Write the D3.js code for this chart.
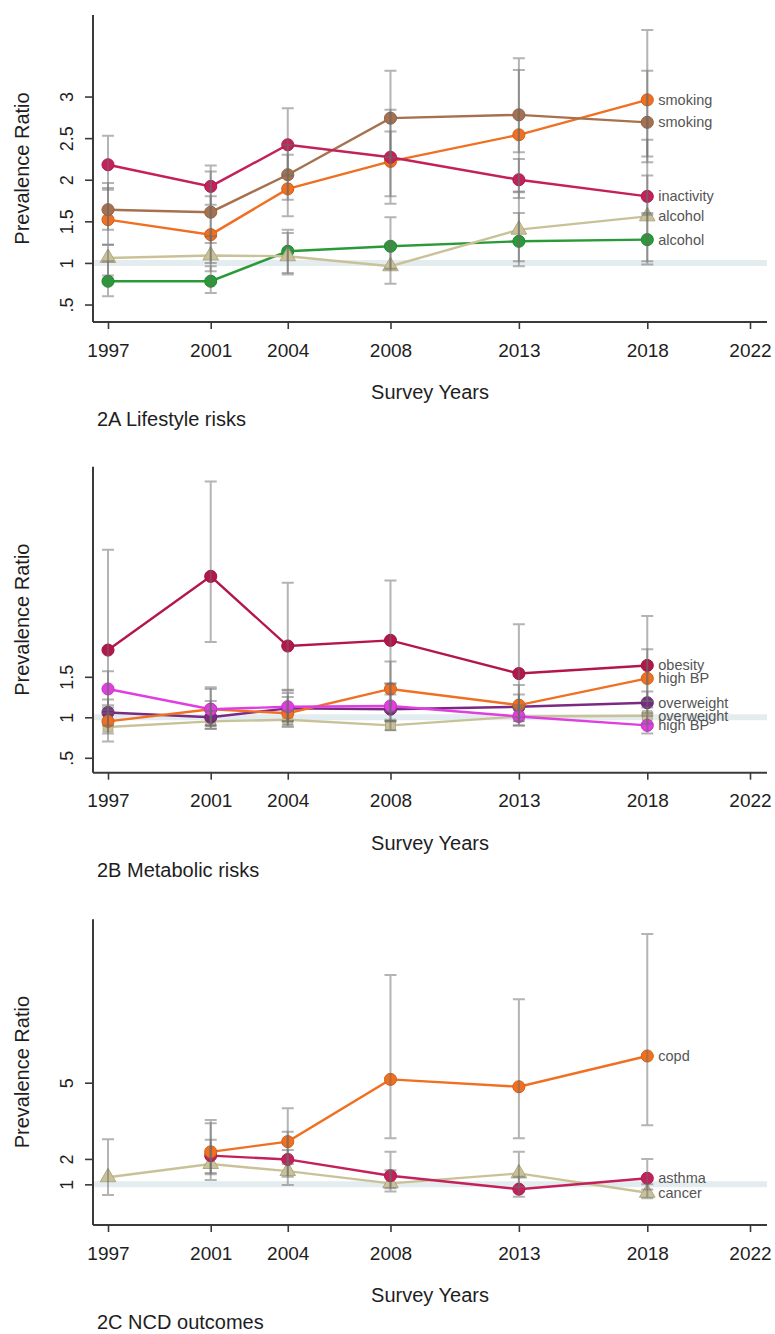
<!DOCTYPE html>
<html>
<head>
<meta charset="utf-8">
<script src="https://cdn.jsdelivr.net/npm/d3@7"></script>
<style>
  html, body { margin: 0; padding: 0; background: #fff; }
  svg { display: block; font-family: "Liberation Sans", Arial, sans-serif; }
</style>
</head>
<body>
<script>
// Survey years and axis ticks
const years = [1997, 2001, 2004, 2008, 2013, 2018];
const xTickYears = [1997, 2001, 2004, 2008, 2013, 2018, 2022];

// 2A Lifestyle risks: prevalence ratio with lower/upper confidence limits
const inactivityPR = [2.18, 1.92, 2.42, 2.27, 2.00, 1.80];
const inactivityLo = [1.88, 1.70, 2.05, 1.80, 1.78, 1.58];
const inactivityHi = [2.53, 2.17, 2.86, 2.84, 2.25, 2.05];
const smokingBrPR = [1.64, 1.61, 2.06, 2.74, 2.78, 2.69];
const smokingBrLo = [1.40, 1.24, 1.76, 2.27, 2.33, 2.21];
const smokingBrHi = [1.96, 2.10, 2.42, 3.31, 3.32, 3.31];
const smokingOrPR = [1.52, 1.34, 1.89, 2.22, 2.54, 2.96];
const smokingOrLo = [1.22, 1.00, 1.56, 1.71, 1.86, 2.28];
const smokingOrHi = [1.90, 1.80, 2.30, 2.58, 3.46, 3.80];
const alcoholTnPR = [1.06, 1.09, 1.08, 0.96, 1.40, 1.56];
const alcoholTnLo = [0.85, 0.90, 0.86, 0.75, 1.02, 0.98];
const alcoholTnHi = [1.22, 1.32, 1.36, 1.23, 1.85, 2.48];
const alcoholGrPR = [0.78, 0.78, 1.14, 1.20, 1.26, 1.28];
const alcoholGrLo = [0.60, 0.64, 0.88, 0.93, 0.96, 1.02];
const alcoholGrHi = [1.02, 0.96, 1.40, 1.55, 1.60, 1.60];

// 2B Metabolic risks
const obesityPR = [1.83, 2.74, 1.88, 1.95, 1.54, 1.64];
const obesityLo = [1.09, 1.93, 1.33, 1.41, 1.10, 1.20];
const obesityHi = [3.07, 3.91, 2.66, 2.69, 2.15, 2.25];
const highBPOrPR = [0.95, 1.10, 1.05, 1.35, 1.15, 1.48];
const highBPOrLo = [0.80, 0.90, 0.90, 1.07, 0.95, 1.20];
const highBPOrHi = [1.12, 1.37, 1.25, 1.69, 1.40, 1.84];
const highBPMgPR = [1.35, 1.10, 1.13, 1.14, 1.01, 0.90];
const highBPMgLo = [1.15, 0.90, 0.95, 0.95, 0.90, 0.80];
const highBPMgHi = [1.57, 1.35, 1.34, 1.42, 1.15, 1.02];
const overweightPuPR = [1.06, 1.00, 1.11, 1.10, 1.13, 1.18];
const overweightPuLo = [0.90, 0.86, 0.95, 0.95, 1.00, 1.05];
const overweightPuHi = [1.22, 1.20, 1.30, 1.28, 1.28, 1.32];
const overweightTnPR = [0.88, 0.95, 0.97, 0.90, 1.01, 1.02];
const overweightTnLo = [0.70, 0.86, 0.88, 0.84, 0.90, 0.92];
const overweightTnHi = [1.05, 1.08, 1.08, 0.97, 1.12, 1.12];

// 2C NCD outcomes (no 1997 estimate for copd and asthma)
const copdPR = [null, 2.28, 2.68, 5.13, 4.84, 6.05];
const copdLo = [null, 1.45, 1.80, 2.81, 2.81, 3.33];
const copdHi = [null, 3.53, 3.99, 9.24, 8.28, 10.85];
const asthmaPR = [null, 2.13, 1.98, 1.34, 0.81, 1.24];
const asthmaLo = [null, 1.40, 1.30, 0.85, 0.51, 0.80];
const asthmaHi = [null, 3.40, 3.07, 2.28, 1.30, 2.00];
const cancerPR = [1.28, 1.80, 1.52, 1.04, 1.43, 0.67];
const cancerLo = [0.58, 1.17, 0.97, 0.72, 0.90, 0.45];
const cancerHi = [2.77, 2.75, 2.35, 1.55, 2.28, 1.00];

// Y-axis ticks per panel
const yTicksA = [0.5, 1, 1.5, 2, 2.5, 3];
const yTickLabelsA = [".5", "1", "1.5", "2", "2.5", "3"];
const yTicksB = [0.5, 1, 1.5];
const yTickLabelsB = [".5", "1", "1.5"];
const yTicksC = [1, 2, 5];
const yTickLabelsC = ["1", "2", "5"];

const C = {
  crimson: "#c4205a", maroon: "#b3174a", brown: "#a5714f", orange: "#f07022",
  tan: "#c9c298", green: "#2a9a38", magenta: "#e03ee0", purple: "#7a2a82"
};

const panels = [
  {
    title: "2A Lifestyle risks", top: 15, bottom: 322, domain: [0.29, 3.98],
    ticks: yTicksA, tickLabels: yTickLabelsA,
    series: [
      { name: "alcohol", pr: alcoholGrPR, lo: alcoholGrLo, hi: alcoholGrHi, color: C.green, sym: "circle" },
      { name: "alcohol", pr: alcoholTnPR, lo: alcoholTnLo, hi: alcoholTnHi, color: C.tan, sym: "triangle" },
      { name: "smoking", pr: smokingOrPR, lo: smokingOrLo, hi: smokingOrHi, color: C.orange, sym: "circle" },
      { name: "smoking", pr: smokingBrPR, lo: smokingBrLo, hi: smokingBrHi, color: C.brown, sym: "circle" },
      { name: "inactivity", pr: inactivityPR, lo: inactivityLo, hi: inactivityHi, color: C.crimson, sym: "circle" }
    ]
  },
  {
    title: "2B Metabolic risks", top: 466.7, bottom: 772.7, domain: [0.316, 4.094],
    ticks: yTicksB, tickLabels: yTickLabelsB,
    series: [
      { name: "overweight", pr: overweightTnPR, lo: overweightTnLo, hi: overweightTnHi, color: C.tan, sym: "square" },
      { name: "overweight", pr: overweightPuPR, lo: overweightPuLo, hi: overweightPuHi, color: C.purple, sym: "circle" },
      { name: "high BP", pr: highBPOrPR, lo: highBPOrLo, hi: highBPOrHi, color: C.orange, sym: "circle" },
      { name: "high BP", pr: highBPMgPR, lo: highBPMgLo, hi: highBPMgHi, color: C.magenta, sym: "circle" },
      { name: "obesity", pr: obesityPR, lo: obesityLo, hi: obesityHi, color: C.maroon, sym: "circle" }
    ]
  },
  {
    title: "2C NCD outcomes", top: 919.3, bottom: 1225, domain: [-0.60, 11.43],
    ticks: yTicksC, tickLabels: yTickLabelsC,
    series: [
      { name: "cancer", pr: cancerPR, lo: cancerLo, hi: cancerHi, color: C.tan, sym: "triangle" },
      { name: "asthma", pr: asthmaPR, lo: asthmaLo, hi: asthmaHi, color: C.crimson, sym: "circle" },
      { name: "copd", pr: copdPR, lo: copdLo, hi: copdHi, color: C.orange, sym: "circle" }
    ]
  }
];

const W = 775, H = 1334;
const axisLeft = 93, axisRight = 767;
const x = d3.scaleLinear().domain([1997, 2022]).range([108, 750]);

const svg = d3.select("body").append("svg").attr("width", W).attr("height", H);

const symbolTypes = { circle: d3.symbolCircle, triangle: d3.symbolTriangle, square: d3.symbolSquare };
const symbolSizes = { circle: 115, triangle: 105, square: 95 };

panels.forEach(p => {
  const y = d3.scaleLinear().domain(p.domain).range([p.bottom, p.top]);
  const g = svg.append("g");

  // reference line at PR = 1
  g.append("line")
    .attr("x1", axisLeft).attr("x2", axisRight)
    .attr("y1", y(1)).attr("y2", y(1))
    .attr("stroke", "#e3ecee").attr("stroke-width", 6);

  // y axis
  const yAxis = d3.axisLeft(y).tickValues(p.ticks)
    .tickFormat((d, i) => p.tickLabels[i]).tickSize(8).tickPadding(0);
  const ya = g.append("g").attr("transform", `translate(${axisLeft},0)`).call(yAxis);
  ya.select(".domain").attr("d", `M0,${p.top}V${p.bottom}`).attr("stroke", "#3a3a3a").attr("stroke-width", 2);
  ya.selectAll(".tick line").attr("stroke", "#3a3a3a").attr("stroke-width", 1.6);
  ya.selectAll(".tick text")
    .attr("x", 0).attr("dy", null)
    .attr("transform", "translate(-26,0) rotate(-90)")
    .attr("text-anchor", "middle").attr("dominant-baseline", "central")
    .attr("font-size", 18).attr("fill", "#1e1e1e")
    .attr("font-family", "Liberation Sans, Arial, sans-serif");

  // x axis
  const xAxis = d3.axisBottom(x).tickValues(xTickYears).tickFormat(d3.format("d")).tickSize(7).tickPadding(0);
  const xa = g.append("g").attr("transform", `translate(0,${p.bottom})`).call(xAxis);
  xa.select(".domain").attr("d", `M${axisLeft},0H${axisRight}`).attr("stroke", "#3a3a3a").attr("stroke-width", 2);
  xa.selectAll(".tick line").attr("stroke", "#3a3a3a").attr("stroke-width", 1.6);
  xa.selectAll(".tick text")
    .attr("y", 28).attr("dy", null).attr("dominant-baseline", "central")
    .attr("font-size", 19).attr("fill", "#1e1e1e")
    .attr("font-family", "Liberation Sans, Arial, sans-serif");

  // axis titles and panel caption
  g.append("text")
    .attr("transform", `translate(22,${(p.top + p.bottom) / 2}) rotate(-90)`)
    .attr("text-anchor", "middle").attr("dominant-baseline", "central")
    .attr("font-size", 20).attr("fill", "#1e1e1e").text("Prevalence Ratio");
  g.append("text")
    .attr("x", (axisLeft + axisRight) / 2).attr("y", p.bottom + 70)
    .attr("text-anchor", "middle").attr("dominant-baseline", "central")
    .attr("font-size", 20).attr("fill", "#1e1e1e").text("Survey Years");
  g.append("text")
    .attr("x", 97).attr("y", p.bottom + 97)
    .attr("dominant-baseline", "central")
    .attr("font-size", 20).attr("fill", "#1e1e1e").text(p.title);

  // series lines and markers
  const line = d3.line()
    .defined(d => d.v != null)
    .x(d => x(d.year)).y(d => y(d.v));

  p.series.forEach(s => {
    const pts = years.map((yr, i) => ({ year: yr, v: s.pr[i], lo: s.lo[i], hi: s.hi[i] }))
      .filter(d => d.v != null);
    g.append("path").datum(pts)
      .attr("d", line).attr("fill", "none")
      .attr("stroke", s.color).attr("stroke-width", 2.4);
    g.selectAll(null).data(pts).enter().append("path")
      .attr("transform", d => `translate(${x(d.year)},${y(d.v)})`)
      .attr("d", d3.symbol().type(symbolTypes[s.sym]).size(symbolSizes[s.sym]))
      .attr("fill", s.color)
      .attr("stroke", d3.color(s.color).darker(0.4)).attr("stroke-width", 1);
    s.pts = pts;
  });

  // confidence interval caps, drawn translucent on top
  const ci = g.append("g").attr("stroke", "#6a6a6a").attr("stroke-opacity", 0.5)
    .attr("stroke-width", 2).attr("fill", "none");
  p.series.forEach(s => {
    s.pts.forEach(d => {
      const cx = x(d.year);
      ci.append("path")
        .attr("d", `M${cx},${y(d.lo)}V${y(d.hi)}M${cx - 6},${y(d.lo)}H${cx + 6}M${cx - 6},${y(d.hi)}H${cx + 6}`);
    });
  });

  // series labels at the last survey year
  p.series.forEach(s => {
    const last = s.pts[s.pts.length - 1];
    g.append("text")
      .attr("x", x(last.year) + 11).attr("y", y(last.v))
      .attr("dominant-baseline", "central")
      .attr("font-size", 14.5).attr("fill", "#555")
      .text(s.name);
  });
});
</script>
</body>
</html>
